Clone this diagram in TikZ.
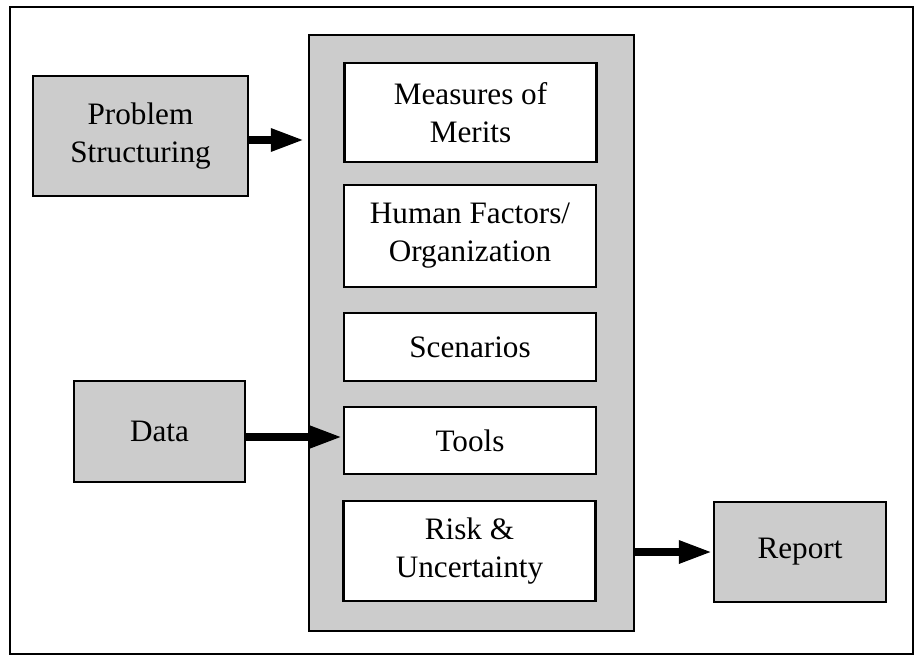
\documentclass[tikz,border=0pt]{standalone}
\usepackage{fontspec}
\setmainfont{Liberation Serif}
\usetikzlibrary{arrows.meta}

\tikzset{
  shaded/.style={draw=black, line width=1.2pt, fill=black!20},
  plain/.style={draw=black, line width=1.2pt, fill=white},
  label/.style={font=\fontsize{15.6}{19}\selectfont, align=center, inner sep=0pt},
  flow/.style={line width=4.2pt, -{Triangle[length=17pt,width=10.5pt]}}
}

\begin{document}
\begin{tikzpicture}[x=0.5pt, y=-0.5pt]
  \useasboundingbox (0,0) rectangle (915,658);

  % outer frame
  \draw[line width=1pt] (10,7) rectangle (913,654);

  % central column holding the analysis elements
  \node[shaded, minimum width=162.5pt, minimum height=298pt, inner sep=0pt]
    (col) at (471.5,333) {};

  % inputs and output
  \node[shaded, minimum width=107.5pt, minimum height=60pt, label]
    (prob) at (140.5,136) {Problem\\Structuring};
  \node[shaded, minimum width=85.5pt, minimum height=50.5pt, label]
    (data) at (159.5,431.5) {Data};
  \node[shaded, minimum width=86pt, minimum height=50pt, label]
    (rep) at (800,552) {Report};

  % analysis elements
  \node[plain, minimum width=126pt, minimum height=49.5pt, label]
    (mom) at (470.5,112.5) {Measures of\\Merits};
  \node[plain, minimum width=126pt, minimum height=51pt, label]
    (hf) at (470,236) {Human Factors/\\Organization};
  \node[plain, minimum width=126pt, minimum height=34pt, label]
    (scen) at (470,347) {Scenarios};
  \node[plain, minimum width=126pt, minimum height=33.5pt, label]
    (tools) at (470,440.5) {Tools};
  \node[plain, minimum width=126pt, minimum height=50pt, label]
    (risk) at (469.5,551) {Risk \&\\Uncertainty};

  % connectors
  \draw[flow] ([yshift=-2pt]prob.east) -- ([yshift=-2pt,xshift=-1.5pt]prob.east -| col.west);
  \draw[flow] ([yshift=-2.75pt]data.east) -- ([yshift=-2.75pt]data.east -| tools.west);
  \draw[flow] (rep.west -| col.east) -- (rep.west);
\end{tikzpicture}
\end{document}
